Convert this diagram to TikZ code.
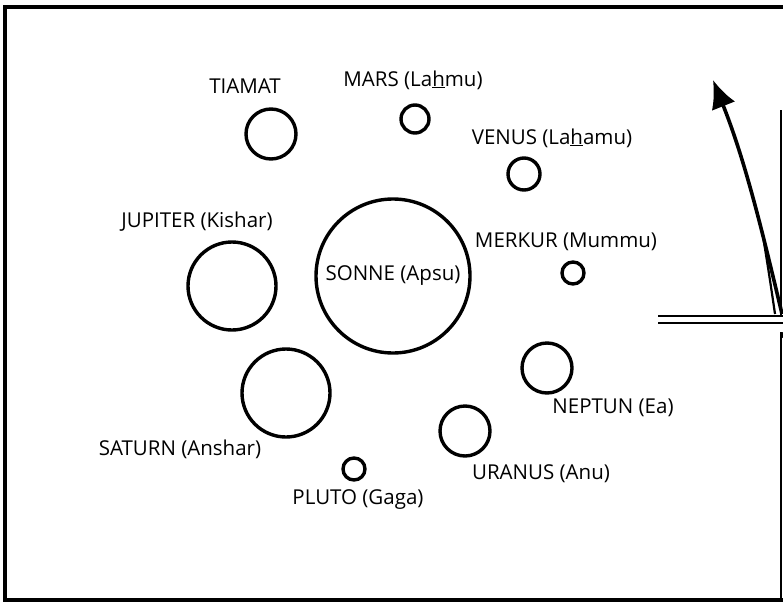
\documentclass[tikz,border=0pt]{standalone}
\usepackage{fontspec}
\setmainfont{Open Sans}
\usetikzlibrary{arrows.meta}
\begin{document}
\begin{tikzpicture}[x=1pt, y=-1pt, every node/.style={font=\fontsize{20.5}{24}\selectfont},
  planet/.style={draw, circle, line width=3.4pt, inner sep=0pt}]
\useasboundingbox (0,0) rectangle (783,605);
% frame
\draw[line width=3.4pt] (783,7) -- (5,7) -- (5,600) -- (783,600);
\draw[line width=2.8pt] (781,332) -- (781,600);
\draw[line width=2.4pt] (781,110) -- (781,316);
\draw[line width=2.6pt] (658,316) -- (783,316);
\draw[line width=2.6pt] (658,323) -- (783,323);
% planets
\foreach \name/\x/\y/\r in {tiamat/271/134/25, mars/415/119/14, venus/524/174/16,
  jupiter/232/286/44, sonne/393/276/77, merkur/573/273/11, saturn/286/393/44,
  neptun/547/368/25, uranus/465/431/25, pluto/354/469/11} {
  \node[planet, minimum size=2*\r pt] (\name) at (\x,\y) {};
}
\node (tiamatL) at (245,86) {TIAMAT};
\node (marsL) at (413,80) {MARS (La\underline{h}mu)};
\node (venusL) at (552,138) {VENUS (La\underline{h}amu)};
\node (jupiterL) at (197,222) {JUPITER (Kishar)};
\node (sonneL) at (sonne) {SONNE (Apsu)};
\node (merkurL) at (566,242) {MERKUR (Mummu)};
\node (saturnL) at (180,449) {SATURN (Anshar)};
\node (neptunL) at (613,408) {NEPTUN (Ea)};
\node (uranusL) at (541,474) {URANUS (Anu)};
\node (plutoL) at (358,500) {PLUTO (Gaga)};
% arrow
\coordinate (base) at (782,314);
\coordinate (tip) at (713,80);
\draw[line width=3.6pt, -{Latex[length=28pt, width=25pt]}] (base) .. controls (762,230) and (745,160) .. (tip);
\draw[line width=2.2pt] (775,314) .. controls (770,280) .. (763,236);
\fill (783,335) circle (3pt);
\end{tikzpicture}
\end{document}
